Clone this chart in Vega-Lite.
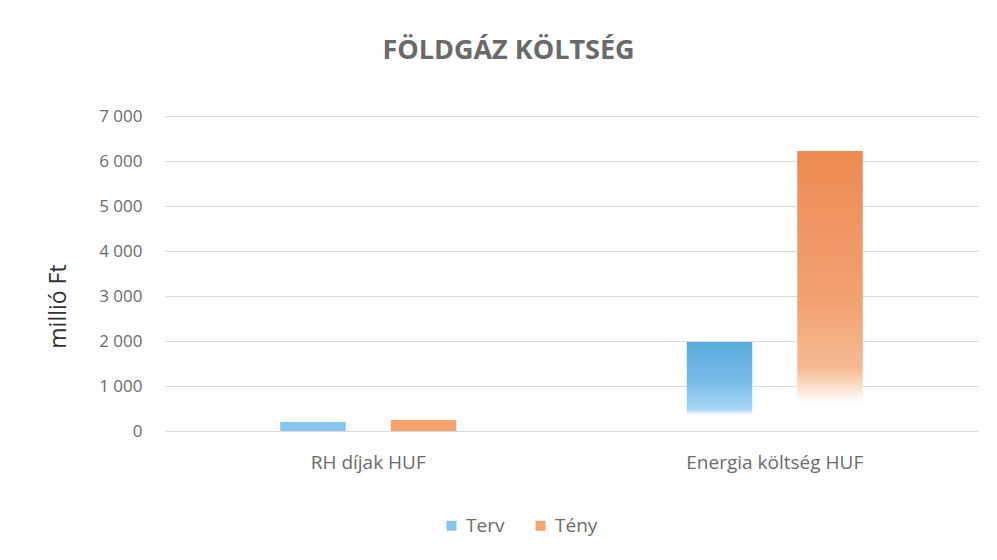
{
  "$schema": "https://vega.github.io/schema/vega-lite/v6.json",
  "width": 813,
  "height": 315,
  "autosize": "none",
  "padding": {"left": 165, "top": 116, "right": 19, "bottom": 129},
  "background": "white",
  "config": {
    "font": "Open Sans",
    "view": {"stroke": null},
    "axis": {"labelFont": "Open Sans", "titleFont": "Open Sans"}
  },
  "title": {
    "text": "FÖLDGÁZ KÖLTSÉG",
    "font": "Open Sans",
    "fontSize": 27,
    "fontWeight": "bold",
    "color": "#6a6a6a",
    "anchor": "middle",
    "dx": -63,
    "offset": 21,
    "baseline": "alphabetic"
  },
  "data": {
    "values": [
      {"cat": "RH díjak HUF", "series": "Terv", "value": 200},
      {"cat": "RH díjak HUF", "series": "Tény", "value": 245},
      {"cat": "Energia költség HUF", "series": "Terv", "value": 1980},
      {"cat": "Energia költség HUF", "series": "Tény", "value": 6225}
    ]
  },
  "encoding": {
    "x": {
      "field": "cat",
      "type": "nominal",
      "sort": ["RH díjak HUF", "Energia költség HUF"],
      "scale": {"paddingInner": 0.567, "paddingOuter": 0.2835},
      "axis": {
        "title": null,
        "labelAngle": 0,
        "labelFontSize": 19,
        "labelColor": "#6b6b6b",
        "labelPadding": 22,
        "ticks": false,
        "domain": false
      }
    },
    "xOffset": {
      "field": "series",
      "type": "nominal",
      "scale": {"domain": ["Terv", "Tény"], "paddingInner": 0.407, "paddingOuter": 0}
    },
    "y": {
      "field": "value",
      "type": "quantitative",
      "scale": {"domain": [0, 7000], "nice": false},
      "axis": {
        "title": "millió Ft",
        "titleFontSize": 23,
        "titleFontWeight": "normal",
        "titleColor": "#333333",
        "titleAngle": -90,
        "titleX": -100,
        "titleY": 190,
        "titleAlign": "center",
        "titleBaseline": "alphabetic",
        "values": [0, 1000, 2000, 3000, 4000, 5000, 6000, 7000],
        "labelExpr": "replace(format(datum.value, ','), ',', ' ')",
        "labelFontSize": 17,
        "labelColor": "#6b6b6b",
        "labelPadding": 23,
        "ticks": false,
        "domain": false,
        "gridColor": "#d9d9d9",
        "gridWidth": 1
      }
    }
  },
  "layer": [
    {
      "transform": [{"filter": "datum.cat === 'RH díjak HUF'"}],
      "mark": {"type": "bar"},
      "encoding": {
        "color": {
          "field": "series",
          "type": "nominal",
          "scale": {"domain": ["Terv", "Tény"], "range": ["#86C5EE", "#F4A46C"]},
          "legend": {
            "title": null,
            "orient": "none",
            "direction": "horizontal",
            "legendX": 277,
            "legendY": 400,
            "symbolType": "square",
            "symbolSize": 100,
            "symbolStrokeWidth": 0,
            "labelFontSize": 19,
            "labelColor": "#6b6b6b",
            "labelFont": "Open Sans",
            "columnPadding": 26,
            "labelOffset": 5
          }
        }
      }
    },
    {
      "transform": [{"filter": "datum.cat === 'Energia költség HUF' && datum.series === 'Terv'"}],
      "mark": {
        "type": "bar",
        "color": {
          "gradient": "linear",
          "x1": 0, "y1": 0, "x2": 0, "y2": 1,
          "stops": [
            {"offset": 0, "color": "#58ABE0"},
            {"offset": 0.45, "color": "#78BCE9"},
            {"offset": 0.76, "color": "#AAD7F4"},
            {"offset": 0.82, "color": "#FFFFFF"},
            {"offset": 1, "color": "#FFFFFF"}
          ]
        }
      }
    },
    {
      "transform": [{"filter": "datum.cat === 'Energia költség HUF' && datum.series === 'Tény'"}],
      "mark": {
        "type": "bar",
        "color": {
          "gradient": "linear",
          "x1": 0, "y1": 0, "x2": 0, "y2": 1,
          "stops": [
            {"offset": 0, "color": "#EE8A52"},
            {"offset": 0.55, "color": "#F2A272"},
            {"offset": 0.78, "color": "#F6BC95"},
            {"offset": 0.9, "color": "#FFFFFF"},
            {"offset": 1, "color": "#FFFFFF"}
          ]
        }
      }
    }
  ]
}
